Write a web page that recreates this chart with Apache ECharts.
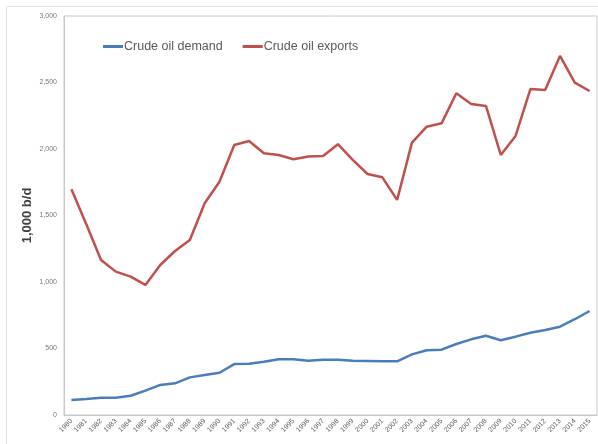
<!DOCTYPE html>
<html><head><meta charset="utf-8">
<script src="https://cdn.jsdelivr.net/npm/echarts@6/dist/echarts.min.js"></script>
<style>html,body{margin:0;padding:0;background:#fff;}#c{width:598px;height:444px;}</style>
</head><body><div id="c"></div>
<script>
const years = ['1980','1981','1982','1983','1984','1985','1986','1987','1988','1989','1990','1991','1992','1993','1994','1995','1996','1997','1998','1999','2000','2001','2002','2003','2004','2005','2006','2007','2008','2009','2010','2011','2012','2013','2014','2015'];
const demand = [113,120,130,130,145,183,226,238,283,301,318,383,386,401,419,419,408,416,416,408,406,404,404,456,487,491,534,569,596,562,589,619,639,664,720,782];
const exportsData = [1697,1436,1166,1078,1040,978,1128,1233,1316,1592,1754,2030,2060,1968,1955,1923,1943,1948,2036,1918,1812,1787,1617,2048,2168,2193,2419,2339,2324,1955,2098,2451,2444,2700,2499,2436];
const seriesNames = ['Crude oil demand','Crude oil exports'];
const yTitle = '1,000 b/d';

const chart = echarts.init(document.getElementById('c'));
chart.setOption({
  animation: false,
  backgroundColor: '#fff',
  graphic: [{type:'rect', shape:{x:6.5,y:6.5,width:620,height:460}, style:{fill:'none', stroke:'#e0e0e0', lineWidth:1}, silent:true}],
  legend: {
    left: 98, top: 35, itemWidth: 20, itemHeight: 3, itemGap: 20,
    icon: 'rect',
    textStyle: {fontFamily:'Liberation Sans, Arial, sans-serif', fontSize: 12.5, color:'#595959', padding:[0,0,0,-4]},
    data: seriesNames
  },
  grid: {left: 64, right: 1, top: 16, bottom: 29, show: true, borderColor:'#c8c8c8', borderWidth:1},
  xAxis: {
    type:'category', data: years, boundaryGap: true,
    axisLine:{lineStyle:{color:'#c8c8c8'}}, axisTick:{show:false},
    axisLabel:{rotate:45, interval:0, fontSize:7, color:'#595959', margin:5, fontFamily:'Liberation Sans, Arial, sans-serif'}
  },
  yAxis: {
    type:'value', min:0, max:3000, interval:500,
    name: yTitle, nameLocation:'middle', nameGap: 30, nameMoveOverlap: false,
    nameTextStyle:{fontSize:13, fontWeight:'bold', color:'#404040', fontFamily:'Liberation Sans, Arial, sans-serif'},
    axisLine:{show:true, lineStyle:{color:'#c8c8c8'}}, axisTick:{show:false},
    splitLine:{show:false},
    axisLabel:{fontSize:7, color:'#777', margin:7, fontFamily:'Liberation Sans, Arial, sans-serif',
      formatter: v => v.toLocaleString('en-US')}
  },
  series: [
    {name: seriesNames[0], type:'line', data: demand, symbol:'none', lineStyle:{width:2.5, color:'#4a7ebb'}, itemStyle:{color:'#4a7ebb'}},
    {name: seriesNames[1], type:'line', data: exportsData, symbol:'none', lineStyle:{width:2.5, color:'#c0504d'}, itemStyle:{color:'#c0504d'}}
  ]
});
</script></body></html>
